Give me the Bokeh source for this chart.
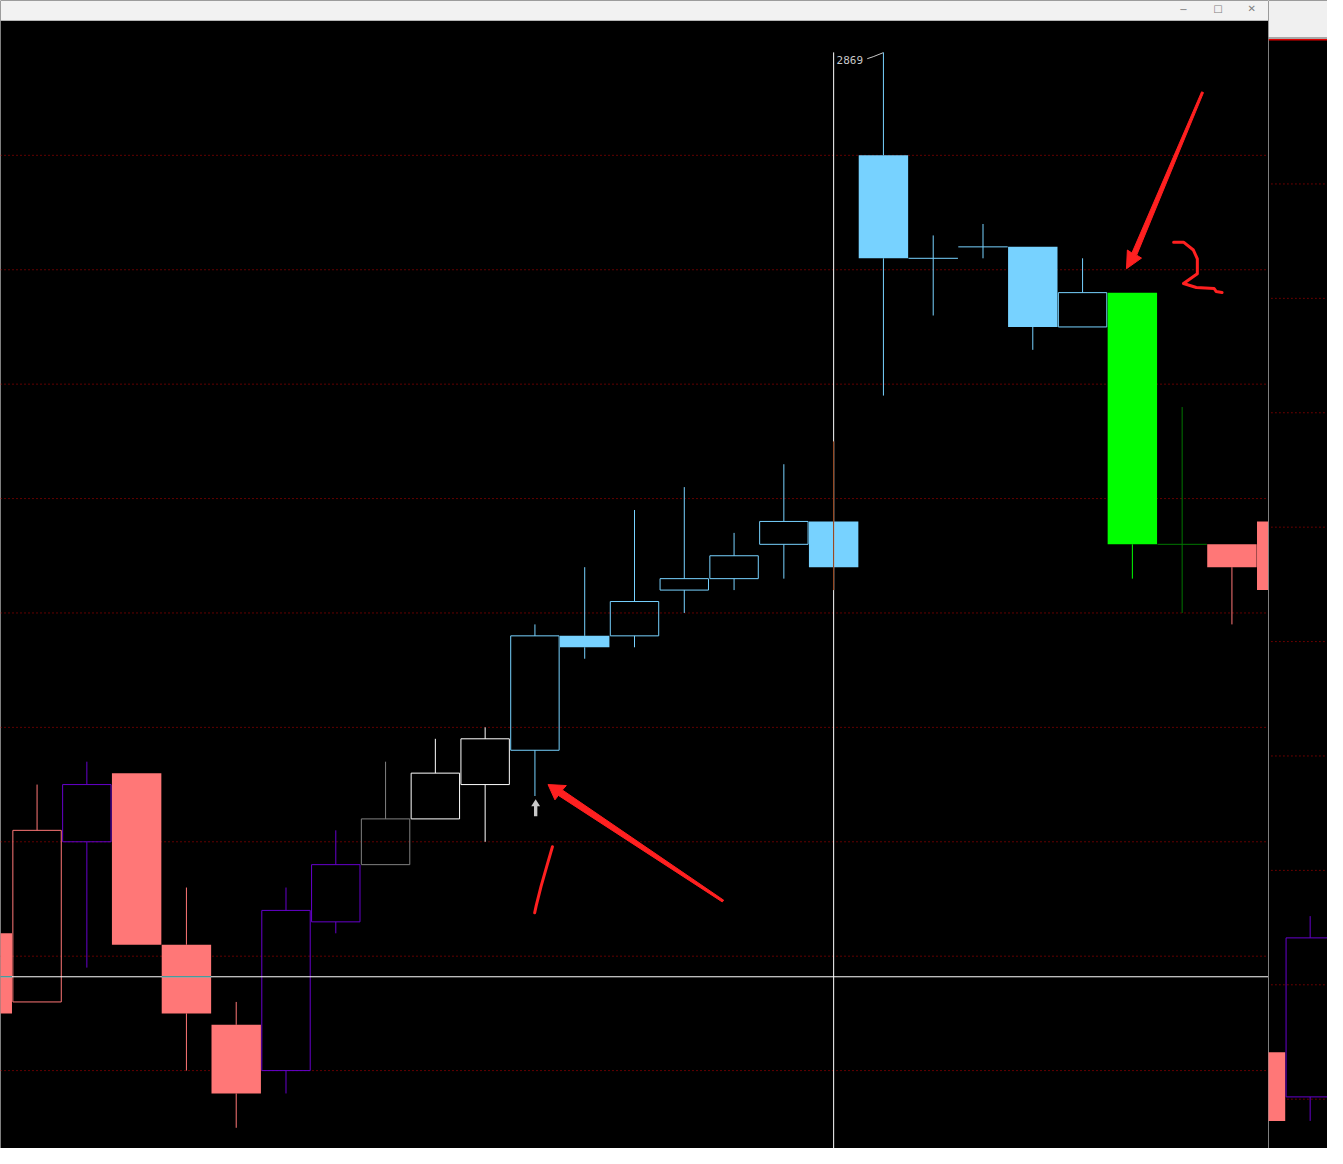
from bokeh.plotting import figure
from bokeh.models import Range1d
from bokeh.layouts import row
from bokeh.core.properties import value
from bokeh.embed import file_html
from bokeh.resources import INLINE

# ---------------- data ----------------
SALMON = "#FF7777"
PURPLE = "#6600CC"
GRAY = "#808080"
WHITE = "#FFFFFF"
LBLUE = "#77D2FF"
GREEN = "#00FF00"
DKGREEN = "#007700"

candle_index = list(range(27))
opens = [2792, 2786, 2800, 2806, 2791, 2784, 2780, 2793, 2798, 2802, 2805, 2808, 2818, 2818,
         2822, 2823, 2826, 2828, 2860, 2851, 2852, 2852, 2845, 2848, 2826, 2826, 2828]
highs = [2792, 2805, 2807, 2806, 2796, 2786, 2796, 2801, 2807, 2809, 2810, 2819, 2824, 2829,
         2831, 2827, 2833, 2835, 2869, 2853, 2854, 2852, 2851, 2848, 2838, 2826, 2828]
lows = [2785, 2786, 2789, 2791, 2780, 2775, 2778, 2792, 2798, 2802, 2800, 2804, 2816, 2817,
        2820, 2822, 2823, 2822, 2839, 2846, 2851, 2843, 2845, 2823, 2820, 2819, 2822]
closes = [2785, 2801, 2805, 2791, 2785, 2778, 2794, 2798, 2802, 2806, 2809, 2818, 2817, 2821,
          2823, 2825, 2828, 2824, 2851, 2851, 2852, 2845, 2848, 2826, 2826, 2824, 2822]
candle_colors = [SALMON, SALMON, PURPLE, SALMON, SALMON, SALMON, PURPLE, PURPLE, GRAY, WHITE,
                 WHITE, LBLUE, LBLUE, LBLUE, LBLUE, LBLUE, LBLUE, LBLUE, LBLUE, LBLUE, LBLUE,
                 LBLUE, LBLUE, GREEN, DKGREEN, SALMON, SALMON]
grid_levels = [2860, 2850, 2840, 2830, 2820, 2810, 2800, 2790, 2780]
crosshair_index = 17
crosshair_price = 2788.2

# right-hand strip (second panel)
strip_index = [0, 1]
strip_opens = [2781.6, 2777.7]
strip_highs = [2781.6, 2793.5]
strip_lows = [2775.6, 2775.6]
strip_closes = [2775.6, 2791.6]
strip_colors = [SALMON, PURPLE]
strip_grid_levels = [2857.5, 2847.5, 2837.5, 2827.5, 2817.5, 2807.5, 2797.5, 2787.5, 2777.5]

# ---------------- screen helpers (reference-pixel -> data) ----------------
STEP = 50.375      # px per candle
X0 = -13.375       # px of candle 0 centre
PX_PER_PT = 11.6


def ix(X):
    return (X - X0) / STEP


def pr(Y):
    return 2860 - (Y - 157) / PX_PER_PT


def jx(X):
    return (X - 1275) / STEP


def xor_white(h):
    h = h.lstrip("#")
    r, g, b = (255 - int(h[k:k + 2], 16) for k in (0, 2, 4))
    return "#%02X%02X%02X" % (r, g, b)


HF = 25.0 / STEP     # filled half width
HH = 24.5 / STEP     # hollow half width

RED = "#FF2020"
GRIDRED = "#C00000"

TOTAL_W, TOTAL_H = 1327, 1148
MAIN_W = round(1283 * TOTAL_W / 1343)
STRIP_W = TOTAL_W - MAIN_W


def draw_candles(fig, idx, o, h, l, c, cols):
    for i, oo, hh, ll, cc, col in zip(idx, o, h, l, c, cols):
        top, bot = max(oo, cc), min(oo, cc)
        if hh > top:
            fig.segment(i, top, i, hh, line_color=col, line_width=1)
        if ll < bot:
            fig.segment(i, ll, i, bot, line_color=col, line_width=1)
        if cc > oo:
            fig.quad(left=i - HH, right=i + HH, top=cc, bottom=oo, fill_color=None,
                     line_color=col, line_width=1)
        elif cc < oo:
            fig.quad(left=i - HF, right=i + HF, top=oo, bottom=cc, fill_color=col,
                     line_color=None)
        else:
            fig.segment(i - HF, oo, i + HF, oo, line_color=col, line_width=1)


# ---------------- main panel ----------------
p = figure(width=MAIN_W, height=TOTAL_H, x_range=Range1d(ix(0), ix(1283)),
           y_range=Range1d(pr(1164), pr(0)), x_axis_type=None, y_axis_type=None,
           output_backend="svg", toolbar_location=None, min_border=0,
           background_fill_color="#000000", border_fill_color="#000000",
           outline_line_color=None)

p.multi_line(xs=[[ix(0), ix(1283)] for _ in grid_levels], ys=[[g, g] for g in grid_levels],
             line_color=GRIDRED, line_dash="1 3", line_width=1)

draw_candles(p, candle_index, opens, highs, lows, closes, candle_colors)

# crosshair
ymax = max(highs)
p.segment(crosshair_index, ymax, crosshair_index, pr(1200), line_color=WHITE, line_width=1)
p.segment(ix(0), crosshair_price, ix(1283), crosshair_price, line_color=WHITE, line_width=1)
ci = crosshair_index
p.segment(ci, highs[ci], ci, lows[ci], line_color=xor_white(candle_colors[ci]), line_width=1)
for i, oo, cc, col in zip(candle_index, opens, closes, candle_colors):
    if cc < oo and cc <= crosshair_price <= oo:
        p.segment(i - HF, crosshair_price, i + HF, crosshair_price,
                  line_color=xor_white(col), line_width=1)

# max label
p.text(x=[ix(846)], y=[pr(60)], text=[str(ymax)], text_color="#C8C8C8",
       text_font=value("DejaVu Sans Mono"), text_font_size="11px",
       text_align="left", text_baseline="middle")
p.line([ix(877), ix(883), ix(893)], [pr(59), pr(57), pr(53)], line_color="#C8C8C8", line_width=1)

# small gray up arrow
ga = [(541.5, 810), (546, 817), (543.2, 817), (543.2, 827), (539.8, 827), (539.8, 817), (537, 817)]
p.patch([ix(a) for a, b in ga], [pr(b) for a, b in ga], fill_color="#C8C8C8", line_color=None)

# red hand-drawn annotations
arrow1 = [(1215.3, 92.6), (1217.2, 93.4), (1149.6, 258.2), (1154.5, 261.2), (1139.3, 272.0),
          (1140.2, 253.0), (1144.8, 256.0)]
arrow2 = [(554, 795), (572.5, 796), (568.5, 800.5), (731.8, 912.3), (730.3, 914.0),
          (564.5, 806), (561, 810.5)]
for poly in (arrow1, arrow2):
    p.patch([ix(a) for a, b in poly], [pr(b) for a, b in poly], fill_color=RED, line_color=RED,
            line_width=1)
slash = [(558.5, 858), (553, 877), (547, 898), (542, 918), (540.5, 925)]
two = [(1187, 245), (1197, 245), (1207, 253), (1211, 262), (1211, 277), (1197, 287), (1210, 291),
       (1228, 292), (1230, 295), (1236, 296)]
for ln in (slash, two):
    p.line([ix(a) for a, b in ln], [pr(b) for a, b in ln], line_color=RED, line_width=3,
           line_join="round", line_cap="round")

# window title bar
p.quad(left=ix(0), right=ix(1283), top=pr(0), bottom=pr(20.5), fill_color="#F2F2F2",
       line_color=None)
p.text(x=[ix(1197), ix(1232), ix(1266)], y=[pr(8.5)] * 3, text=["−", "□", "✕"],
       text_color="#808080", text_font=value("DejaVu Sans"), text_font_size="10px",
       text_align="center", text_baseline="middle")

# ---------------- right strip ----------------
p2 = figure(width=STRIP_W, height=TOTAL_H, x_range=Range1d(jx(1283), jx(1343)),
            y_range=Range1d(pr(1164), pr(0)), x_axis_type=None, y_axis_type=None,
            output_backend="svg", toolbar_location=None, min_border=0,
            background_fill_color="#000000", border_fill_color="#000000",
            outline_line_color=None)
p2.multi_line(xs=[[jx(1286), jx(1345)] for _ in strip_grid_levels],
              ys=[[g, g] for g in strip_grid_levels],
              line_color=GRIDRED, line_dash="1 3", line_width=1)
draw_candles(p2, strip_index, strip_opens, strip_highs, strip_lows, strip_closes, strip_colors)
p2.quad(left=jx(1283), right=jx(1345), top=pr(0), bottom=pr(37), fill_color="#F0F0F0",
        line_color=None)
p2.quad(left=jx(1283), right=jx(1345), top=pr(37), bottom=pr(39), fill_color="#A8A8A8",
        line_color=None)
p2.quad(left=jx(1283), right=jx(1345), top=pr(39), bottom=pr(40.5), fill_color="#E00000",
        line_color=None)

layout = row(p, p2)
open("out.html", "w").write(file_html(layout, INLINE))
